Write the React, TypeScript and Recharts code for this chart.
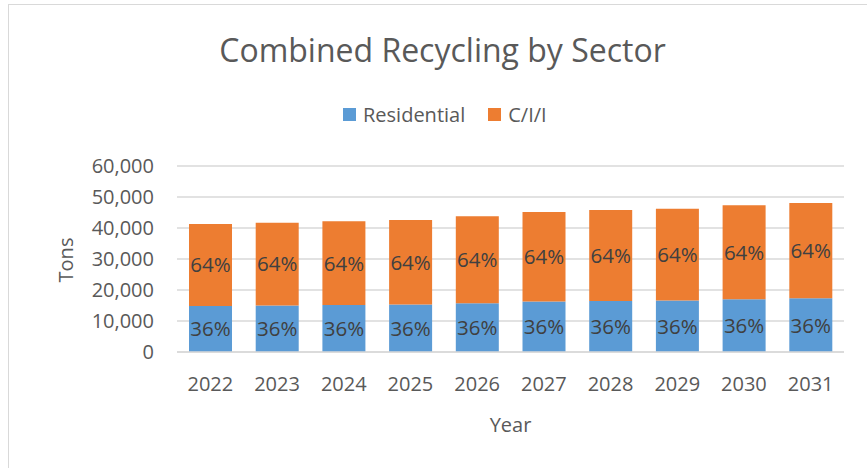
import React from "react";
import { BarChart, Bar, XAxis, YAxis, CartesianGrid, Legend, LabelList, Label } from "recharts";

// values (tons)
const years = ["2022", "2023", "2024", "2025", "2026", "2027", "2028", "2029", "2030", "2031"];
const residential = [14870, 15010, 15170, 15330, 15750, 16260, 16490, 16650, 17030, 17300];
const cii = [26430, 26690, 26980, 27250, 28010, 28900, 29310, 29590, 30280, 30760];
const yTicks = [0, 10000, 20000, 30000, 40000, 50000, 60000];

const data = years.map((year, i) => ({
  year,
  residential: residential[i],
  cii: cii[i],
  total: residential[i] + cii[i],
}));

const FONT = "'Open Sans', sans-serif";
const AXIS_COLOR = "#595959";
const BLUE = "#5B9BD5";
const ORANGE = "#ED7D31";

function fmtTick(n: number): string {
  return n.toLocaleString("en-US");
}

function pctLabel(key: "residential" | "cii") {
  return (props: any) => {
    const { x, y, width, height, index } = props;
    const row = data[index];
    const pct = Math.round((row[key] / row.total) * 100);
    return (
      <text
        x={x + width / 2}
        y={y + height / 2}
        dy="0.36em"
        textAnchor="middle"
        fill="#404040"
        fontSize={20.5}
        fontFamily={FONT}
      >
        {pct}%
      </text>
    );
  };
}

function LegendContent() {
  const items = [
    { label: "Residential", color: BLUE },
    { label: "C/I/I", color: ORANGE },
  ];
  return (
    <div style={{ display: "flex", alignItems: "center", fontFamily: FONT, fontSize: 20, color: AXIS_COLOR }}>
      {items.map((it, i) => (
        <div key={it.label} style={{ display: "flex", alignItems: "center", marginRight: i === 0 ? 23 : 0 }}>
          <span style={{ width: 13, height: 13, background: it.color, display: "inline-block", marginRight: 7 }} />
          <span>{it.label}</span>
        </div>
      ))}
    </div>
  );
}

export default function App() {
  return (
    <div style={{ position: "absolute", left: 0, top: 0, width: 867, height: 468, background: "#fff", overflow: "hidden" }}>
      <div
        style={{
          position: "absolute",
          left: 8,
          top: 4,
          width: 860,
          height: 480,
          borderLeft: "1px solid #d9d9d9",
          borderTop: "1px solid #d9d9d9",
        }}
      />
      <div
        style={{
          position: "absolute",
          left: 0,
          top: 28,
          width: 885,
          textAlign: "center",
          fontFamily: FONT,
          fontSize: 32,
          lineHeight: "44px",
          color: AXIS_COLOR,
        }}
      >
        Combined Recycling by Sector
      </div>
      <BarChart
        width={867}
        height={468}
        data={data}
        barCategoryGap="18%"
        margin={{ top: 166, right: 23, bottom: 0, left: 0 }}
        style={{ position: "absolute", left: 0, top: 0 }}
      >
        <CartesianGrid vertical={false} stroke="#d9d9d9" strokeWidth={1.5} />
        <XAxis
          dataKey="year"
          height={116}
          axisLine={{ stroke: "#d9d9d9", strokeWidth: 1.5 }}
          tickLine={false}
          tickMargin={19}
          tick={{ fontSize: 20, fill: AXIS_COLOR, fontFamily: FONT }}
        >
          <Label value="Year" position="insideBottom" offset={36} fontSize={20} fill={AXIS_COLOR} fontFamily={FONT} />
        </XAxis>
        <YAxis
          width={177}
          domain={[0, 60000]}
          ticks={yTicks}
          tickFormatter={fmtTick}
          axisLine={false}
          tickLine={false}
          tickMargin={17}
          tick={{ fontSize: 20, fill: AXIS_COLOR, fontFamily: FONT }}
        >
          <Label
            content={() => (
              <text
                transform="translate(73,260) rotate(-90)"
                textAnchor="middle"
                fontSize={20}
                fill={AXIS_COLOR}
                fontFamily={FONT}
              >
                Tons
              </text>
            )}
          />
        </YAxis>
        <Legend
          verticalAlign="middle"
          align="center"
          content={<LegendContent />}
          wrapperStyle={{ top: 101, left: 343, width: "auto" }}
        />
        <Bar dataKey="residential" name="Residential" stackId="a" fill={BLUE} isAnimationActive={false}>
          <LabelList dataKey="residential" content={pctLabel("residential")} />
        </Bar>
        <Bar dataKey="cii" name="C/I/I" stackId="a" fill={ORANGE} isAnimationActive={false}>
          <LabelList dataKey="cii" content={pctLabel("cii")} />
        </Bar>
      </BarChart>
    </div>
  );
}
